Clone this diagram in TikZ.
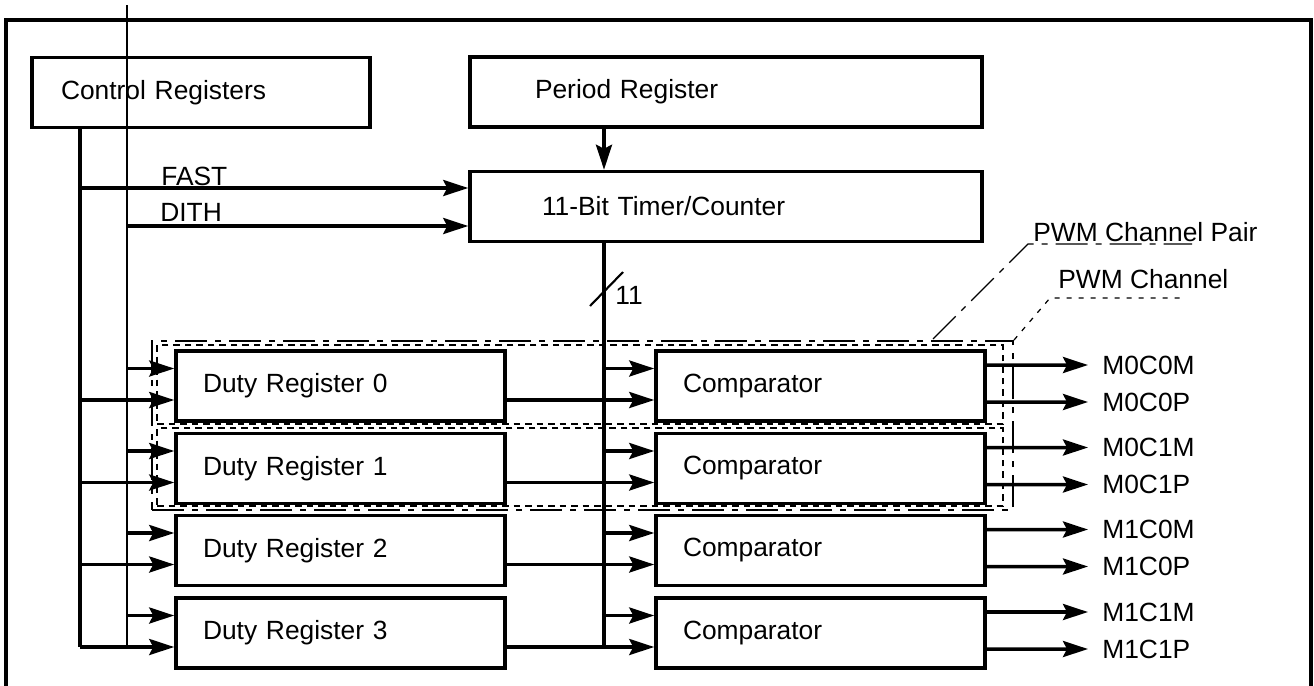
\documentclass[tikz,border=0pt]{standalone}
\usepackage{fontspec}
\setmainfont{Liberation Sans}
\usetikzlibrary{arrows.meta,positioning,calc}

\begin{document}
\begin{tikzpicture}[
  every node/.style={font=\fontsize{15}{18}\selectfont},
  reg/.style={draw, line width=2pt, minimum height=1.40cm, align=left, inner ysep=0pt},
  txt/.style={inner sep=0pt},
  outlbl/.style={anchor=west, inner xsep=0.28cm, inner ysep=0pt},
  wire/.style={line width=2pt},
  thinwire/.style={line width=1.2pt},
  arr/.style={-{Stealth[length=0.50cm, width=0.32cm, inset=0.08cm]}, line width=2pt},
  pairbox/.style={draw, line width=1.1pt, dash pattern=on 0.64cm off 0.16cm on 0.12cm off 0.16cm,
                  minimum width=17.22cm, minimum height=3.38cm, inner sep=0pt},
  chanbox/.style={draw, line width=1.1pt, dash pattern=on 0.13cm off 0.10cm,
                  minimum width=16.92cm, inner sep=0pt},
  pairline/.style={line width=0.7pt, dash pattern=on 0.64cm off 0.16cm on 0.12cm off 0.16cm},
  chanline/.style={line width=0.7pt, dash pattern=on 0.10cm off 0.14cm},
]
\useasboundingbox (0,0) rectangle (26.28,-13.70);
\draw[wire] (0.12,-13.75) -- (0.12,-0.40) -- (26.22,-0.40) -- (26.22,-13.75);

\node[pairbox]                        (pair) at (11.65,-8.51) {};
\node[chanbox, minimum height=1.58cm] (ch0)  at (11.60,-7.69) {};
\node[chanbox, minimum height=1.56cm] (ch1)  at (11.60,-9.34) {};

\node[reg, text width=5.60cm, inner xsep=0.58cm] (ctl) at (4.02,-1.85)  {Control Registers};
\node[reg, text width=7.64cm, inner xsep=1.30cm] (prd) at (14.52,-1.84) {Period Register};
\node[reg, text width=7.36cm, inner xsep=1.44cm] (tmr) at (14.52,-4.13) {11-Bit Timer/Counter};

\node[reg, text width=5.50cm, inner xsep=0.54cm] (d0) at (6.81,-7.72)  {Duty Register 0};
\node[reg, text width=5.50cm, inner xsep=0.54cm] (d1) at (6.81,-9.37)  {Duty Register 1};
\node[reg, text width=5.50cm, inner xsep=0.54cm] (d2) at (6.81,-11.01) {Duty Register 2};
\node[reg, text width=5.50cm, inner xsep=0.54cm] (d3) at (6.81,-12.66) {Duty Register 3};

\node[reg, text width=5.50cm, inner xsep=0.54cm] (c0) at (16.41,-7.72)  {Comparator};
\node[reg, text width=5.50cm, inner xsep=0.54cm] (c1) at (16.41,-9.37)  {Comparator};
\node[reg, text width=5.50cm, inner xsep=0.54cm] (c2) at (16.41,-11.01) {Comparator};
\node[reg, text width=5.50cm, inner xsep=0.54cm] (c3) at (16.41,-12.66) {Comparator};

\node[outlbl] (m0c0m) at (21.76,-7.30)  {M0C0M};
\node[outlbl] (m0c0p) at (21.76,-8.04)  {M0C0P};
\node[outlbl] (m0c1m) at (21.76,-8.95)  {M0C1M};
\node[outlbl] (m0c1p) at (21.76,-9.69)  {M0C1P};
\node[outlbl] (m1c0m) at (21.76,-10.59) {M1C0M};
\node[outlbl] (m1c0p) at (21.76,-11.33) {M1C0P};
\node[outlbl] (m1c1m) at (21.76,-12.24) {M1C1M};
\node[outlbl] (m1c1p) at (21.76,-12.98) {M1C1P};

\node[txt, anchor=base west] (fast) at (3.22,-3.70) {FAST};
\node[txt, anchor=base west] (dith) at (3.20,-4.42) {DITH};
\node[txt, anchor=west]      (pairlbl) at (20.66,-4.64) {PWM Channel Pair};
\node[txt, anchor=west]      (chanlbl) at (21.16,-5.58) {PWM Channel};

\coordinate (cbus)  at (1.60,0);
\coordinate (dbus)  at (2.54,0);
\coordinate (tbus)  at (12.08,0);
\coordinate (dtop)  at (2.54,-0.10);
\coordinate (slash) at (12.13,-5.78);
\coordinate (pairfoot) at (18.66,-6.78);
\coordinate (pairknee) at (20.56,-4.88);
\coordinate (pairend)  at (23.84,-4.88);
\coordinate (chanknee) at (21.00,-5.96);
\coordinate (chanend)  at (23.70,-5.96);

\draw[pairline] (pairfoot) -- (pairknee) -- (pairend);
\draw[chanline] (pair.north east) -- (chanknee) -- (chanend);

\draw[wire] (ctl.south -| cbus) -- ($(d3.west -| cbus)+(0,-0.28)$);
\draw[thinwire] (dtop) -- ($(d3.west -| dbus)+(0,-0.28)$);
\draw[arr] ($(tmr.west -| cbus)+(0,0.37)$) -- ($(tmr.west)+(0,0.37)$);
\draw[arr] ($(tmr.west -| dbus)+(0,-0.39)$) -- ($(tmr.west)+(0,-0.39)$);
\draw[arr] (prd.south -| tbus) -- (tmr.north -| tbus);
\draw[wire] (tmr.south -| tbus) -- ($(c3.west -| tbus)+(0,-0.28)$);
\draw[thinwire] ($(slash)+(-0.33,-0.34)$) -- ($(slash)+(0.33,0.34)$);
\node[txt, anchor=west] (width) at (12.30,-5.90) {11};

\draw[arr] ($(d0.west -| dbus)+(0,0.35)$) -- ($(d0.west)+(0,0.35)$);
\draw[arr] ($(d0.west -| cbus)+(0,-0.28)$) -- ($(d0.west)+(0,-0.28)$);
\draw[arr] ($(d1.west -| dbus)+(0,0.35)$) -- ($(d1.west)+(0,0.35)$);
\draw[arr] ($(d1.west -| cbus)+(0,-0.28)$) -- ($(d1.west)+(0,-0.28)$);
\draw[arr] ($(d2.west -| dbus)+(0,0.35)$) -- ($(d2.west)+(0,0.35)$);
\draw[arr] ($(d2.west -| cbus)+(0,-0.28)$) -- ($(d2.west)+(0,-0.28)$);
\draw[arr] ($(d3.west -| dbus)+(0,0.35)$) -- ($(d3.west)+(0,0.35)$);
\draw[arr] ($(d3.west -| cbus)+(0,-0.28)$) -- ($(d3.west)+(0,-0.28)$);

\draw[arr] ($(c0.west -| tbus)+(0,0.35)$) -- ($(c0.west)+(0,0.35)$);
\draw[arr] ($(d0.east)+(0,-0.28)$) -- ($(c0.west)+(0,-0.28)$);
\draw[arr] ($(c1.west -| tbus)+(0,0.35)$) -- ($(c1.west)+(0,0.35)$);
\draw[arr] ($(d1.east)+(0,-0.28)$) -- ($(c1.west)+(0,-0.28)$);
\draw[arr] ($(c2.west -| tbus)+(0,0.35)$) -- ($(c2.west)+(0,0.35)$);
\draw[arr] ($(d2.east)+(0,-0.28)$) -- ($(c2.west)+(0,-0.28)$);
\draw[arr] ($(c3.west -| tbus)+(0,0.35)$) -- ($(c3.west)+(0,0.35)$);
\draw[arr] ($(d3.east)+(0,-0.28)$) -- ($(c3.west)+(0,-0.28)$);

\draw[arr] ($(c0.east)+(0,0.42)$)  -- (m0c0m.west);
\draw[arr] ($(c0.east)+(0,-0.32)$) -- (m0c0p.west);
\draw[arr] ($(c1.east)+(0,0.42)$)  -- (m0c1m.west);
\draw[arr] ($(c1.east)+(0,-0.32)$) -- (m0c1p.west);
\draw[arr] ($(c2.east)+(0,0.42)$)  -- (m1c0m.west);
\draw[arr] ($(c2.east)+(0,-0.32)$) -- (m1c0p.west);
\draw[arr] ($(c3.east)+(0,0.42)$)  -- (m1c1m.west);
\draw[arr] ($(c3.east)+(0,-0.32)$) -- (m1c1p.west);
\end{tikzpicture}
\end{document}
